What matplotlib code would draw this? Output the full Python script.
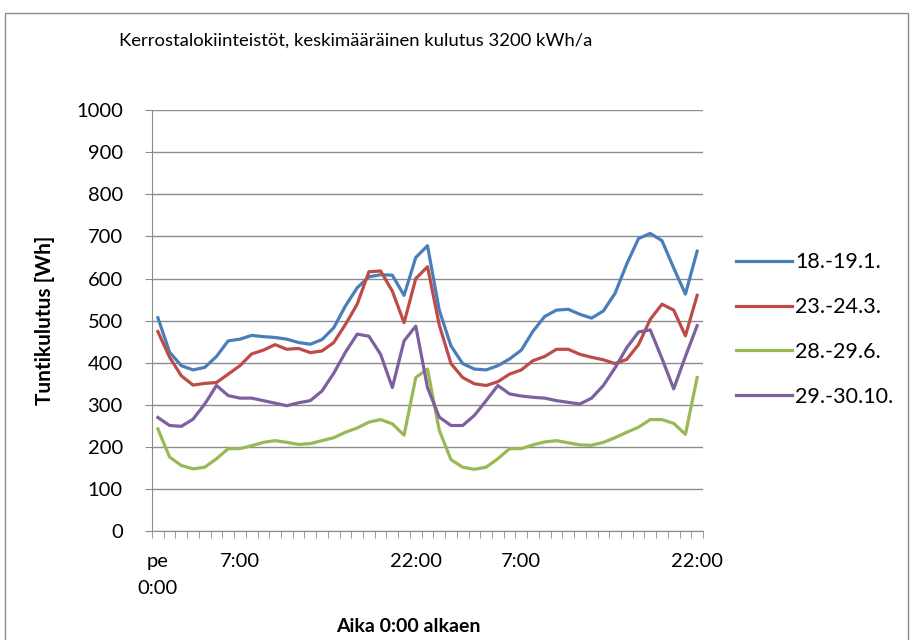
import numpy as np
import matplotlib.pyplot as plt
from matplotlib.patches import Rectangle

plt.rcParams['font.family'] = ['Lato', 'DejaVu Sans']

# hourly consumption [Wh], 47 hours: Friday 0:00 ... Saturday 22:00
hours = np.arange(47)
jan = [507, 425, 393, 383, 389, 415, 452, 456, 465, 462, 460, 456, 448,
       444, 455, 483, 535, 578, 604, 609, 608, 560, 650, 678,
       525, 440, 398, 385, 383, 393, 409, 430, 475, 510, 525, 527,
       515, 506, 523, 565, 635, 695, 707, 690, 625, 563, 665]
mar = [474, 413, 369, 347, 351, 353, 373, 393, 421, 430, 443, 432, 434,
       424, 428, 448, 491, 539, 616, 618, 570, 495, 600, 628,
       490, 398, 365, 350, 346, 355, 373, 383, 405, 415, 432, 432,
       420, 413, 407, 398, 408, 443, 503, 539, 525, 464, 560]
jun = [243, 176, 156, 148, 152, 172, 196, 196, 203, 211, 215, 211, 206,
       208, 215, 222, 235, 245, 259, 265, 255, 228, 365, 385,
       240, 170, 152, 147, 152, 172, 196, 196, 205, 212, 215, 210,
       205, 204, 211, 222, 235, 247, 265, 265, 256, 230, 365]
octo = [270, 251, 249, 266, 302, 346, 322, 316, 316, 310, 304, 298, 305,
        310, 333, 375, 425, 468, 463, 420, 341, 452, 487, 341,
        271, 251, 251, 275, 310, 346, 326, 321, 318, 316, 310, 306,
        302, 316, 346, 388, 436, 473, 478, 410, 338, 415, 488]
series = [('18.-19.1.', jan, '#4a7ebb'),
          ('23.-24.3.', mar, '#be4b48'),
          ('28.-29.6.', jun, '#98b954'),
          ('29.-30.10.', octo, '#7d60a0')]

tick_pos = [0, 7, 22, 31, 46]
tick_lab = ['pe\n0:00', '7:00', '22:00', '7:00', '22:00']

fig = plt.figure(figsize=(9.13, 6.4), dpi=100)
ax = fig.add_axes([0.1665, 0.170, 0.6035, 0.658])

for name, vals, col in series:
    ax.plot(hours, vals, color=col, lw=2.3, label=name, solid_joinstyle='round')

ax.set_xlim(-0.5, 46.5)
ax.set_ylim(0, 1000)
ax.set_yticks(np.arange(0, 1001, 100))
ax.yaxis.grid(True, color='#8c8c8c', lw=1)
ax.set_axisbelow(True)
ax.set_xticks(tick_pos)
ax.set_xticklabels(tick_lab, linespacing=1.7)
ax.set_xticks(np.arange(-0.5, 47, 1), minor=True)
ax.tick_params(axis='x', which='major', length=0, pad=16, labelsize=14.5)
ax.tick_params(axis='x', which='minor', length=5, color='#8c8c8c')
ax.tick_params(axis='y', length=5, color='#8c8c8c', labelsize=14.5, pad=16)
for s in ['top', 'right']:
    ax.spines[s].set_visible(False)
for s in ['left', 'bottom']:
    ax.spines[s].set_color('#8c8c8c')

ax.set_ylabel('Tuntikulutus [Wh]', fontsize=15, fontweight='bold', labelpad=15)
ax.set_xlabel('Aika 0:00 alkaen', fontsize=14, fontweight='bold')
ax.xaxis.set_label_coords(0.465, -0.205)
fig.text(0.39, 0.937, 'Kerrostalokiinteistöt, keskimääräinen kulutus 3200 kWh/a',
         ha='center', va='center', fontsize=13.3)

leg = ax.legend(loc='center left', bbox_to_anchor=(1.025, 0.479), frameon=False,
                fontsize=15.5, handlelength=2.6, labelspacing=1.15, handletextpad=0.15)

fig.patches.append(Rectangle((0.005, -0.01), 0.99, 0.99, transform=fig.transFigure,
                             fill=False, edgecolor='#8c8c8c', lw=1))

fig.savefig('out.png', dpi=100)
